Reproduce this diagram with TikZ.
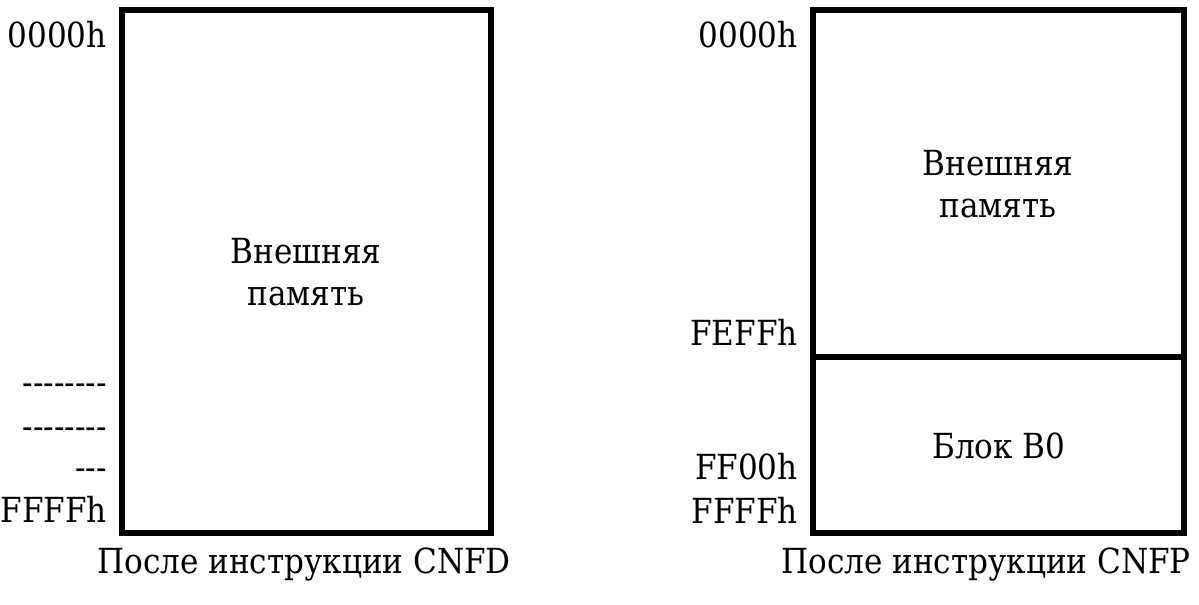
\documentclass[tikz,border=0pt]{standalone}
\usepackage{fontspec}
\setmainfont{DejaVu Serif Condensed}[Scale=0.91]

\tikzset{
  memline/.style={black, line width=4.4pt},
  addr/.style={anchor=base east, inner sep=0pt},
  memtext/.style={anchor=base, inner sep=0pt, align=center},
}
% hyphens without the TeX dash ligature
\newcommand{\hy}{-\kern0pt}

\begin{document}
\begin{tikzpicture}[x=0.025cm, y=-0.025cm, font=\rmfamily\fontsize{27}{31}\selectfont]

\useasboundingbox (0,0) rectangle (1199,605);

% after CNFD
\draw [memline] (122,10) rectangle (491,533);

\node (addrA) at (107,47) [addr] {0000h};
\node (dashA) at (107,394) [addr] {\hy\hy\hy\hy\hy\hy\hy\hy};
\node (dashB) at (107,438) [addr] {\hy\hy\hy\hy\hy\hy\hy\hy};
\node (dashC) at (107,479) [addr] {\hy\hy\hy};
\node (addrB) at (107,522) [addr] {FFFFh};
\node (extA) at (306,263) [memtext] {Внешняя};
\node (extB) at (306,305) [memtext] {память};
\node (capA) at (304,573) [memtext] {После инструкции CNFD};

% after CNFP
\draw [memline] (813,10) rectangle (1184,533);
\draw [memline] (813,357) -- (1184,357);

\node (addrC) at (798,47) [addr] {0000h};
\node (addrD) at (798,345) [addr] {FEFFh};
\node (addrE) at (798,479) [addr] {FF00h};
\node (addrF) at (798,523) [addr] {FFFFh};
\node (extC) at (998,175) [memtext] {Внешняя};
\node (extD) at (998,217) [memtext] {память};
\node (blk) at (999,458) [memtext] {Блок B0};
\node (capB) at (986,573) [memtext] {После инструкции CNFP};

\end{tikzpicture}
\end{document}
